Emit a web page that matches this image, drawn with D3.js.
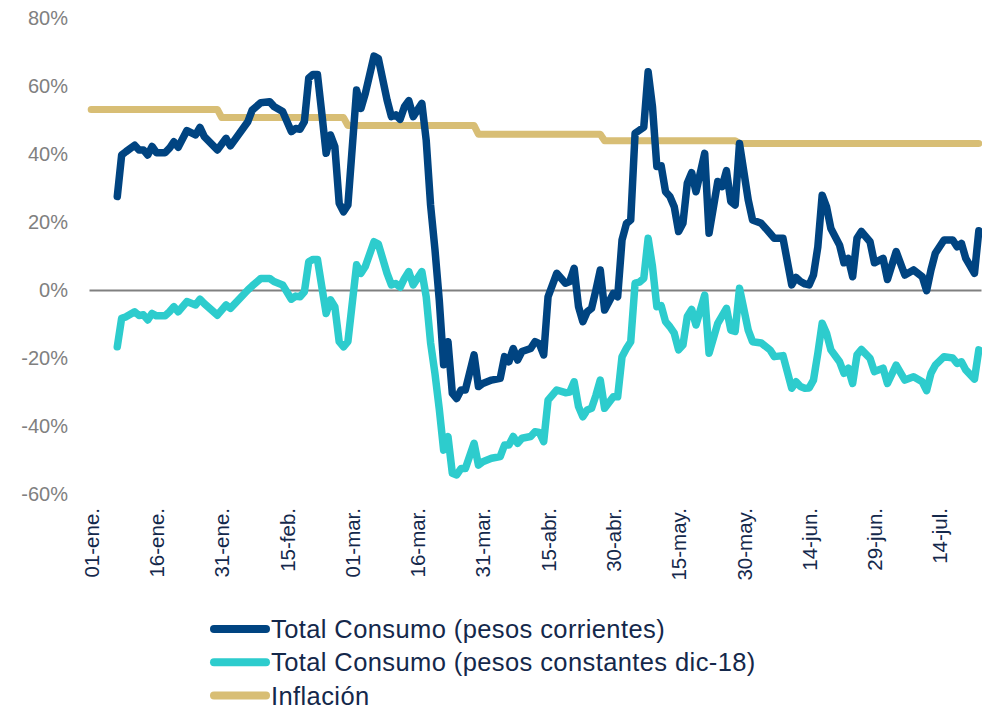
<!DOCTYPE html>
<html>
<head>
<meta charset="utf-8">
<script src="https://cdn.jsdelivr.net/npm/d3@7"></script>
<style>
body { margin: 0; background: #fff; }
svg text { font-family: "Liberation Sans", Arial, sans-serif; }
</style>
</head>
<body>
<svg width="982" height="711"></svg>
<script>
var fechas = [
"2020-01-07","2020-01-08","2020-01-09","2020-01-11","2020-01-12","2020-01-13","2020-01-14","2020-01-15","2020-01-16","2020-01-18",
"2020-01-19","2020-01-20","2020-01-21","2020-01-23","2020-01-25","2020-01-26","2020-01-27","2020-01-30","2020-02-01","2020-02-02",
"2020-02-06","2020-02-07","2020-02-09","2020-02-11","2020-02-12","2020-02-14","2020-02-16","2020-02-17","2020-02-18","2020-02-19",
"2020-02-20","2020-02-21","2020-02-22","2020-02-23","2020-02-24","2020-02-25","2020-02-26","2020-02-27","2020-02-28","2020-02-29",
"2020-03-02","2020-03-03","2020-03-04","2020-03-06","2020-03-07","2020-03-09","2020-03-10","2020-03-11","2020-03-12","2020-03-13",
"2020-03-14","2020-03-15","2020-03-17","2020-03-18","2020-03-19","2020-03-20","2020-03-21","2020-03-22","2020-03-23","2020-03-24",
"2020-03-25","2020-03-26","2020-03-27","2020-03-29","2020-03-30","2020-03-31","2020-04-02","2020-04-04","2020-04-05","2020-04-06",
"2020-04-07","2020-04-08","2020-04-09","2020-04-11","2020-04-12","2020-04-13","2020-04-14","2020-04-15","2020-04-17","2020-04-19",
"2020-04-20","2020-04-21","2020-04-22","2020-04-23","2020-04-24","2020-04-25","2020-04-26","2020-04-27","2020-04-28","2020-04-30",
"2020-05-01","2020-05-02","2020-05-03","2020-05-04","2020-05-05","2020-05-06","2020-05-07","2020-05-08","2020-05-09","2020-05-10",
"2020-05-11","2020-05-12","2020-05-13","2020-05-14","2020-05-15","2020-05-16","2020-05-17","2020-05-18","2020-05-19","2020-05-21",
"2020-05-22","2020-05-24","2020-05-25","2020-05-26","2020-05-27","2020-05-28","2020-05-29","2020-05-31","2020-06-01","2020-06-03",
"2020-06-05","2020-06-06","2020-06-08","2020-06-10","2020-06-11","2020-06-12","2020-06-13","2020-06-14","2020-06-15","2020-06-16",
"2020-06-17","2020-06-18","2020-06-19","2020-06-21","2020-06-22","2020-06-23","2020-06-24","2020-06-25","2020-06-26","2020-06-28",
"2020-06-29","2020-07-01","2020-07-02","2020-07-04","2020-07-06","2020-07-08","2020-07-10","2020-07-11","2020-07-12","2020-07-13",
"2020-07-15","2020-07-17","2020-07-18","2020-07-19","2020-07-20","2020-07-22","2020-07-23"];

// Total Consumo (pesos corrientes), % a/a
var consumoCorriente = [
27.5, 39.7, 40.7, 42.6, 41.2, 41.2, 39.7, 42.2, 40.4, 40.4,
41.7, 43.6, 42.0, 46.9, 45.6, 47.8, 45.1, 41.2, 44.6, 42.4,
49.5, 52.9, 55.1, 55.4, 54.0, 52.5, 46.6, 47.5, 47.3, 49.5,
62.3, 63.4, 63.4, 52.0, 40.2, 45.6, 42.2, 25.5, 23.0, 25.0,
58.8, 53.4, 57.8, 68.8, 68.1, 55.9, 51.0, 51.5, 50.2, 53.9,
55.7, 51.0, 54.9, 44.0, 25.0, 12.0, -3.0, -22.0, -15.2, -30.4,
-31.9, -29.4, -29.4, -19.1, -28.4, -27.5, -26.5, -26.0, -19.6, -21.1,
-17.2, -20.6, -18.1, -17.2, -15.2, -15.8, -19.1, -2.0, 4.9, 2.0,
2.5, 6.4, -4.9, -9.3, -6.4, -5.4, 0.0, 5.9, -5.9, -1.0,
-2.0, 14.7, 19.5, 20.6, 46.1, 47.0, 47.9, 64.2, 53.9, 36.3,
36.5, 28.9, 27.5, 24.5, 17.2, 19.6, 31.4, 34.5, 28.9, 40.2,
16.7, 31.9, 30.4, 35.1, 26.0, 25.0, 43.1, 26.5, 20.6, 19.6,
16.7, 15.2, 15.2, 1.5, 3.7, 2.5, 1.8, 1.5, 4.4, 12.7,
27.9, 24.5, 18.1, 13.2, 8.0, 9.3, 3.9, 15.2, 17.2, 14.2,
8.0, 9.3, 3.1, 11.3, 4.4, 5.9, 3.9, -0.2, 5.9, 10.8,
14.7, 14.7, 12.7, 13.7, 9.3, 4.9, 17.4];

// Total Consumo (pesos constantes dic-18), % a/a
var consumoConstante = [
-16.7, -8.3, -7.9, -6.4, -7.5, -7.3, -8.8, -6.9, -7.6, -7.6,
-6.4, -4.9, -6.4, -3.4, -4.4, -2.7, -4.0, -7.4, -4.4, -5.4,
0.0, 1.2, 3.4, 3.4, 2.5, 1.5, -2.7, -1.8, -2.0, -0.5,
8.3, 9.0, 9.0, 1.0, -6.9, -2.9, -4.9, -15.2, -16.7, -15.2,
7.4, 4.9, 6.9, 14.2, 13.5, 4.9, 1.5, 1.9, 0.8, 3.4,
5.4, 1.5, 5.4, -2.0, -15.5, -24.5, -35.0, -47.1, -43.1, -53.9,
-54.4, -52.5, -52.5, -45.1, -51.5, -50.5, -49.5, -49.0, -45.6, -45.6,
-43.1, -45.1, -43.6, -43.1, -41.7, -41.9, -44.6, -32.4, -29.4, -30.2,
-30.0, -27.0, -34.3, -37.3, -35.3, -34.8, -31.0, -26.5, -34.8, -31.4,
-31.4, -19.6, -17.2, -15.2, 2.0, 2.3, 3.4, 15.2, 6.9, -4.9,
-4.6, -9.3, -10.8, -12.7, -17.6, -16.2, -7.8, -5.7, -10.3, -1.5,
-18.6, -9.8, -7.6, -5.4, -11.8, -12.2, 0.5, -11.8, -15.2, -15.6,
-17.6, -19.6, -19.3, -28.9, -27.0, -28.4, -28.9, -28.8, -26.5, -18.6,
-9.8, -12.7, -17.6, -21.1, -24.5, -23.0, -27.5, -19.1, -17.5, -20.1,
-24.0, -23.0, -27.5, -22.1, -26.5, -25.5, -27.0, -29.6, -24.5, -22.1,
-19.6, -20.0, -21.6, -21.1, -23.5, -26.2, -17.6];

var fechasInflacion = ["2020-01-01","2020-01-30","2020-01-31","2020-02-28","2020-02-29","2020-03-29",
                       "2020-03-30","2020-04-27","2020-04-28","2020-05-28","2020-05-29","2020-07-23"];
var inflacion = [53.1, 53.1, 50.7, 50.7, 48.4, 48.4, 45.8, 45.8, 43.9, 43.9, 43.1, 43.1];

var ticksX = ["2020-01-01","2020-01-16","2020-01-31","2020-02-15","2020-03-01","2020-03-16","2020-03-31",
              "2020-04-15","2020-04-30","2020-05-15","2020-05-30","2020-06-14","2020-06-29","2020-07-14"];
var ticksY = [-60, -40, -20, 0, 20, 40, 60, 80];
var meses = ["ene", "feb", "mar", "abr", "may", "jun", "jul", "ago", "sep", "oct", "nov", "dic"];
var nombresSeries = ["Total Consumo (pesos corrientes)", "Total Consumo (pesos constantes dic-18)", "Inflación"];

var colores = ["#004481", "#2dcccd", "#d8be75"];

var parseFecha = d3.timeParse("%Y-%m-%d");
var svg = d3.select("svg");

var inicio = parseFecha("2020-01-01");
var fin = parseFecha("2020-07-23");

var x = d3.scaleTime()
    .domain([d3.timeHour.offset(inicio, -12), d3.timeHour.offset(fin, 12)])
    .range([89, 981]);

var y = d3.scaleLinear()
    .domain([-60, 80])
    .range([494, 18]);

//Y axis labels
var yaxis = d3.axisLeft(y)
    .tickValues(ticksY)
    .tickSize(0)
    .tickPadding(21)
    .tickFormat(function(d){ return d + "%"; });
var gy = svg.append("g").attr("transform", "translate(89,0)").call(yaxis);
gy.select(".domain").remove();
gy.selectAll("text")
    .style("font-family", "'Liberation Sans', Arial, sans-serif")
    .style("font-size", "20px")
    .attr("fill", "#808080");

//Zero line
var zeroAxis = d3.axisBottom(x).tickValues([]).tickSizeOuter(0);
var gz = svg.append("g").attr("transform", "translate(0," + y(0) + ")").call(zeroAxis);
gz.select(".domain").attr("stroke", "#808080").attr("stroke-width", 2);

//X axis labels
var xaxis = d3.axisBottom(x)
    .tickValues(ticksX.map(parseFecha))
    .tickSize(0)
    .tickFormat(function(d){ return d3.timeFormat("%d")(d) + "-" + meses[d.getMonth()] + "."; });
var gx = svg.append("g").attr("transform", "translate(0,508)").call(xaxis);
gx.select(".domain").remove();
gx.selectAll("text")
    .attr("transform", "rotate(-90)")
    .attr("x", 0)
    .attr("y", 0)
    .attr("dy", "0.35em")
    .style("text-anchor", "end")
    .style("font-family", "'Liberation Sans', Arial, sans-serif")
    .style("font-size", "20.5px")
    .attr("fill", "#14284b");

//Lines
var linea = d3.line()
    .x(function(d){ return x(d.fecha); })
    .y(function(d){ return y(d.valor); });

var datosInflacion = fechasInflacion.map(function(f, i){ return {fecha: parseFecha(f), valor: inflacion[i]}; });
var datosCorriente = fechas.map(function(f, i){ return {fecha: parseFecha(f), valor: consumoCorriente[i]}; });
var datosConstante = fechas.map(function(f, i){ return {fecha: parseFecha(f), valor: consumoConstante[i]}; });

svg.append("path")
    .datum(datosInflacion)
    .attr("d", linea)
    .attr("fill", "none")
    .attr("stroke", colores[2])
    .attr("stroke-width", 7)
    .attr("stroke-linecap", "round")
    .attr("stroke-linejoin", "round");

svg.append("path")
    .datum(datosConstante)
    .attr("d", linea)
    .attr("fill", "none")
    .attr("stroke", colores[1])
    .attr("stroke-width", 7.5)
    .attr("stroke-linecap", "round")
    .attr("stroke-linejoin", "round");

svg.append("path")
    .datum(datosCorriente)
    .attr("d", linea)
    .attr("fill", "none")
    .attr("stroke", colores[0])
    .attr("stroke-width", 7.5)
    .attr("stroke-linecap", "round")
    .attr("stroke-linejoin", "round");

//Legend
var leyenda = svg.selectAll(".leyenda")
    .data(nombresSeries)
    .enter()
    .append("g")
    .attr("class", "leyenda")
    .attr("transform", function(d, i){ return "translate(214," + (629 + i * 33.3) + ")"; });

leyenda.append("line")
    .attr("x1", 0)
    .attr("x2", 52)
    .attr("stroke", function(d, i){ return colores[i]; })
    .attr("stroke-width", 8)
    .attr("stroke-linecap", "round");

leyenda.append("text")
    .attr("x", 57)
    .attr("dy", "0.35em")
    .style("font-size", "25.5px")
    .style("letter-spacing", "0.4px")
    .attr("fill", "#14284b")
    .text(function(d){ return d; });
</script>
</body>
</html>
